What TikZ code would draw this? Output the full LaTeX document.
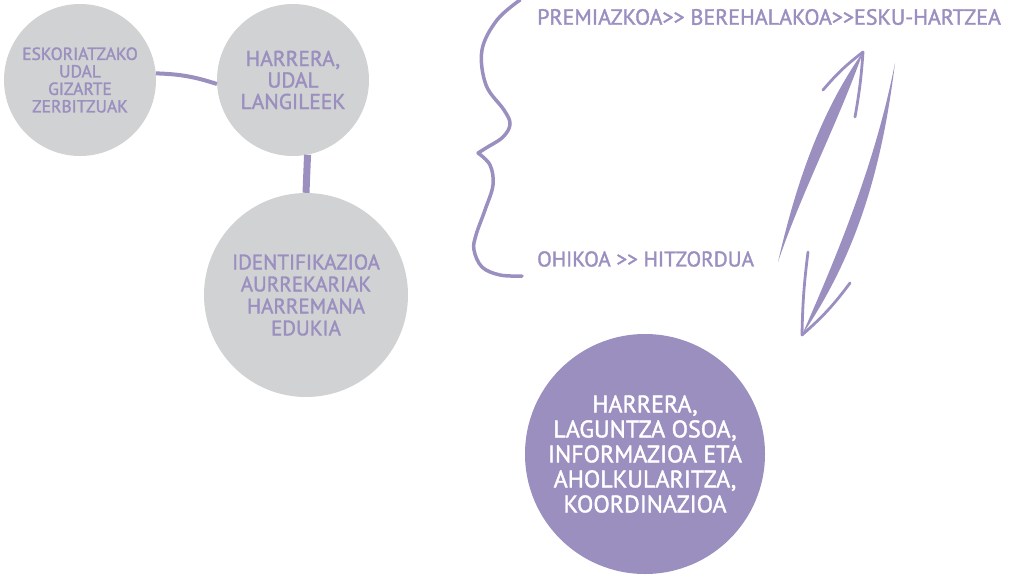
\documentclass[tikz,border=0pt]{standalone}
\usepackage{fontspec}
\setmainfont{PT Sans}[FakeBold=1.6, Ligatures=TeXOff]
\usepackage{tikz}
\usetikzlibrary{positioning}
\definecolor{lila}{RGB}{155,143,192}
\definecolor{grisa}{RGB}{209,210,212}
\tikzset{zirkulu/.style={circle, fill=grisa, text=lila, align=center, inner sep=0pt}}
\tikzset{zirkulubete/.style={circle, fill=lila, text=white, align=center, inner sep=0pt}}
\tikzset{lotura/.style={draw=lila, line width=#1}}
\tikzset{testua/.style={text=lila, anchor=west, inner sep=0pt, font=\fontsize{#1}{#1}\selectfont}}
\tikzset{giltza/.style={draw=lila, line width=3.5pt, line cap=round}}
\tikzset{geziburu/.style={draw=lila, line width=2.8pt, line cap=round}}

\begin{document}
\begin{tikzpicture}[x=1pt, y=-1pt]
    \useasboundingbox (0,0) rectangle (1020,576);
    % zirkuluak
    \node[zirkulu, minimum size=152pt, font=\fontsize{17.5}{17.5}\selectfont] (eskoriatza) at (80,80) {ESKORIATZAKO\\UDAL\\GIZARTE\\ZERBITZUAK};
    \node[zirkulu, minimum size=152pt, font=\fontsize{21.5}{21.5}\selectfont] (harrera) at (293,80) {HARRERA,\\UDAL\\LANGILEEK};
    \node[zirkulu, minimum size=204pt, font=\fontsize{21}{22}\selectfont] (identif) at (306,295) {IDENTIFIKAZIOA\\AURREKARIAK\\HARREMANA\\EDUKIA};
    \node[zirkulubete, minimum size=240pt, font=\fontsize{24}{25}\selectfont] (laguntza) at (645,454) {HARRERA,\\LAGUNTZA OSOA,\\INFORMAZIOA ETA\\AHOLKULARITZA,\\KOORDINAZIOA};
    \draw[lotura=4pt] (eskoriatza.5) to[bend left=8] (harrera.183);
    \draw[lotura=7pt] (harrera.-79) -- (identif.north);
    % testuak
    \node[testua=22] (premia) at (537,17) {PREMIAZKOA>> BEREHALAKOA>>ESKU-HARTZEA};
    \node[testua=21.3] (ohikoa) at (537,259) {OHIKOA >> HITZORDUA};
    % giltza
    \draw[giltza] plot[smooth, tension=0.6] coordinates {(520,0) (497,20) (482,50) (486,85) (504,110) (510,124) (503,137) (486,148) (478,153)};
    \draw[giltza] plot[smooth, tension=0.6] coordinates {(478,153) (490,165) (493,185) (485,210) (476,235) (474,250) (482,267) (500,275) (522,276)};
    % geziak
    \coordinate (gora0) at (778,262);
    \coordinate (gora1) at (863,52);
    \coordinate (behera0) at (895,63);
    \coordinate (behera1) at (802,335);
    \fill[lila] (gora0) .. controls (795,188) and (819,114) .. (gora1)
        .. controls (838,123) and (802,191) .. (gora0);
    \draw[geziburu] (gora1) to[bend right=6] (823,90);
    \draw[geziburu] (gora1) to[bend left=3] (855,117);
    \fill[lila] (behera0) .. controls (876,160) and (840,249) .. (behera1)
        .. controls (860,250) and (883,160) .. (behera0);
    \draw[geziburu] (behera1) to[bend left=3] (808,252);
    \draw[geziburu] (behera1) to[bend right=6] (850,283);
\end{tikzpicture}
\end{document}
